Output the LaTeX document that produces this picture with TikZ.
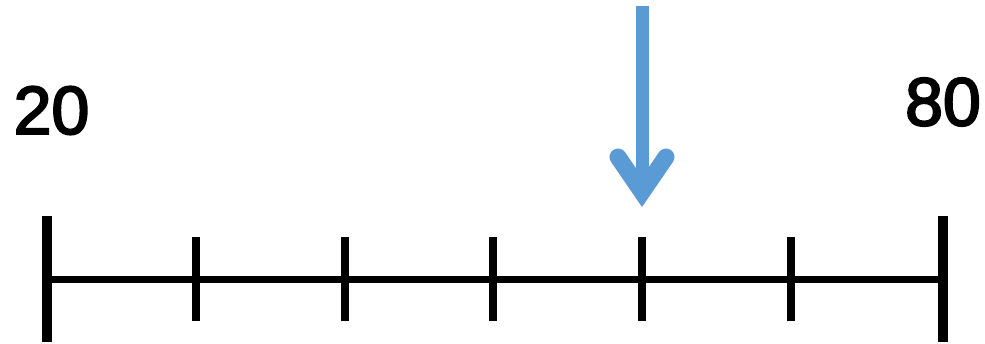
\documentclass[tikz,border=0pt]{standalone}
\usepackage{fontspec}
\setmainfont{Liberation Sans}
\newfontfamily\numfont{Liberation Sans}[FakeBold=3]
\usepackage{tikz}
\definecolor{black}{RGB}{0,0,0}
\definecolor{mark_blue}{RGB}{91,155,213}

\begin{document}
\begin{tikzpicture}[x=1pt,y=1pt]
	\useasboundingbox (0,0) rectangle (985,343);
	\node[font=\fontsize{68}{70}\numfont] (lo) at (51.5,232.5) {20};
	\node[font=\fontsize{68}{70}\numfont] (hi) at (943,241) {80};
	\coordinate (start) at (47,63.5);
	\coordinate (end) at (943,63.5);

	\draw[black,line width=6.5] (start) -- (end);
	\draw[black,line width=10] (47,1) -- (47,127);
	\draw[black,line width=10] (943,1) -- (943,127);
	\foreach \i in {0,...,4}
		\draw[black,line width=8] (196+148.7*\i,22) -- (196+148.7*\i,106);

	\coordinate (top) at (642,337);
	\coordinate (vert) at (642,151);
	\draw[mark_blue,line width=13] (top) -- (642,165);
	\draw[mark_blue,line width=17,line cap=round,line join=miter] (618,186) -- (vert) -- (666,186);
\end{tikzpicture}
\end{document}
